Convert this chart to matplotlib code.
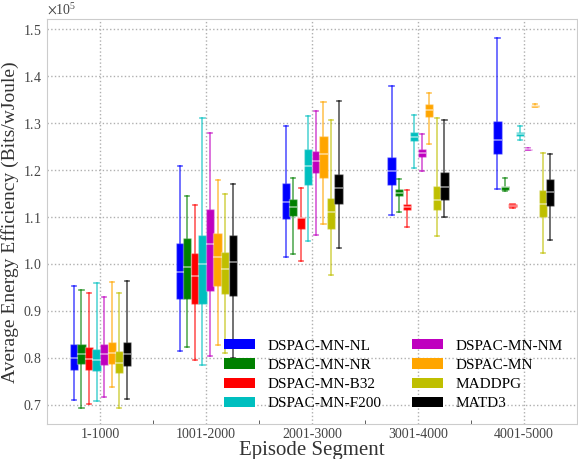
# Boxplots of average energy efficiency per episode segment
import matplotlib
matplotlib.use('Agg')
import matplotlib.pyplot as plt
from matplotlib.patches import Patch
from matplotlib.ticker import ScalarFormatter, FixedLocator

plt.rcParams['font.family'] = ['Liberation Serif', 'DejaVu Serif']
plt.rcParams['mathtext.fontset'] = 'stix'

# Data (units of 1e5 Bits/wJoule)
segments = ['1-1000', '1001-2000', '2001-3000', '3001-4000', '4001-5000']
methods = ['DSPAC-MN-NL', 'DSPAC-MN-NR', 'DSPAC-MN-B32', 'DSPAC-MN-F200',
           'DSPAC-MN-NM', 'DSPAC-MN', 'MADDPG', 'MATD3']
colors = ['#0000ff', '#008000', '#ff0000', '#00bfbf',
          '#bf00bf', '#ffa500', '#bfbf00', '#000000']

# each entry per segment: [whislo, q1, med, q3, whishi]
nl = [[0.711, 0.774, 0.799, 0.830, 0.954], [0.815, 0.925, 0.983, 1.045, 1.209],
      [1.014, 1.095, 1.132, 1.172, 1.293], [1.104, 1.169, 1.198, 1.228, 1.379],
      [1.160, 1.235, 1.265, 1.305, 1.481]]
nr = [[0.694, 0.786, 0.808, 0.830, 0.944], [0.824, 0.926, 0.994, 1.056, 1.145],
      [1.022, 1.102, 1.121, 1.138, 1.182], [1.111, 1.144, 1.152, 1.160, 1.180],
      [1.156, 1.157, 1.163, 1.166, 1.182]]
b32 = [[0.702, 0.775, 0.797, 0.823, 0.939], [0.795, 0.915, 0.975, 1.023, 1.126],
       [1.006, 1.074, 1.097, 1.100, 1.161], [1.079, 1.115, 1.122, 1.128, 1.157],
       [1.120, 1.121, 1.124, 1.127, 1.128]]
f200 = [[0.709, 0.773, 0.796, 0.819, 0.960], [0.785, 0.914, 0.999, 1.061, 1.310],
        [1.049, 1.168, 1.208, 1.244, 1.315], [1.204, 1.261, 1.271, 1.280, 1.318],
        [1.264, 1.272, 1.277, 1.282, 1.293]]
nm = [[0.717, 0.785, 0.808, 0.830, 0.929], [0.805, 0.942, 1.043, 1.117, 1.279],
      [1.062, 1.193, 1.219, 1.240, 1.325], [1.199, 1.228, 1.236, 1.245, 1.277],
      [1.242, 1.243, 1.244, 1.245, 1.246]]
mn = [[0.737, 0.786, 0.810, 0.833, 0.962], [0.827, 0.954, 1.015, 1.066, 1.179],
      [1.086, 1.184, 1.234, 1.273, 1.344], [1.255, 1.313, 1.327, 1.340, 1.365],
      [1.334, 1.335, 1.337, 1.338, 1.340]]
maddpg = [[0.694, 0.767, 0.790, 0.815, 0.938], [0.810, 0.936, 0.989, 1.026, 1.150],
          [0.976, 1.074, 1.111, 1.140, 1.306], [1.060, 1.115, 1.137, 1.166, 1.311],
          [1.023, 1.099, 1.128, 1.157, 1.237]]
matd3 = [[0.713, 0.783, 0.808, 0.833, 0.963], [0.800, 0.931, 1.004, 1.061, 1.171],
         [1.034, 1.128, 1.161, 1.191, 1.348], [1.101, 1.136, 1.163, 1.196, 1.307],
         [1.050, 1.123, 1.154, 1.181, 1.234]]
all_data = [nl, nr, b32, f200, nm, mn, maddpg, matd3]

fig = plt.figure(figsize=(5.78, 4.59), dpi=100)
ax = fig.add_axes([0.082, 0.076, 0.916, 0.882])

step = 0.0714
width = 0.078
for i, (data, c) in enumerate(zip(all_data, colors)):
    stats = []
    for d in data:
        stats.append({'whislo': d[0] * 1e5, 'q1': d[1] * 1e5, 'med': d[2] * 1e5,
                      'q3': d[3] * 1e5, 'whishi': d[4] * 1e5, 'fliers': []})
    pos = [k + 1 + (i - 3.5) * step for k in range(len(segments))]
    ax.bxp(stats, positions=pos, widths=width, patch_artist=True,
           showfliers=False, manage_ticks=False,
           boxprops=dict(facecolor=c, edgecolor=(1, 1, 1, 0.3), linewidth=1),
           whiskerprops=dict(color=c, alpha=0.65, linewidth=1.2),
           capprops=dict(color=c, alpha=0.65, linewidth=1.2),
           medianprops=dict(color='white', alpha=0.55, linewidth=1.2))

ax.set_xlim(0.5, 5.5)
ax.set_ylim(0.659e5, 1.521e5)
ax.set_xticks(range(1, 6))
ax.set_xticklabels(segments)
ax.xaxis.set_minor_locator(FixedLocator([1.5, 2.5, 3.5, 4.5]))
ax.set_yticks([0.7e5 + 0.1e5 * k for k in range(9)])
fmt = ScalarFormatter(useMathText=True)
fmt.set_powerlimits((0, 0))
ax.yaxis.set_major_formatter(fmt)
ax.yaxis.get_offset_text().set_fontsize(10)
ax.yaxis.get_offset_text().set_color('#444444')

ax.grid(True, which='major', linestyle=':', color='#b0b0b0', linewidth=1)
ax.set_axisbelow(True)
ax.tick_params(axis='x', which='major', length=0, labelsize=10, colors='#444444', pad=3)
ax.tick_params(axis='x', which='minor', direction='in', length=3, color='#444444')
ax.tick_params(axis='y', which='major', direction='in', length=0, labelsize=10,
               colors='#444444', pad=4)
for s in ax.spines.values():
    s.set_color('#cccccc')

ax.set_xlabel('Episode Segment', fontsize=15, color='#333333', labelpad=0)
ax.set_ylabel('Average Energy Efficiency (Bits/wJoule)', fontsize=14, color='#333333',
              labelpad=3)

handles = [Patch(facecolor=c, edgecolor='none') for c in colors]
ax.legend(handles, methods, ncol=2, loc='lower right', frameon=False, fontsize=11,
          handlelength=2.0, handleheight=0.65, labelspacing=0.38, columnspacing=2.0,
          handletextpad=0.85)

fig.savefig('out.png', dpi=100)
